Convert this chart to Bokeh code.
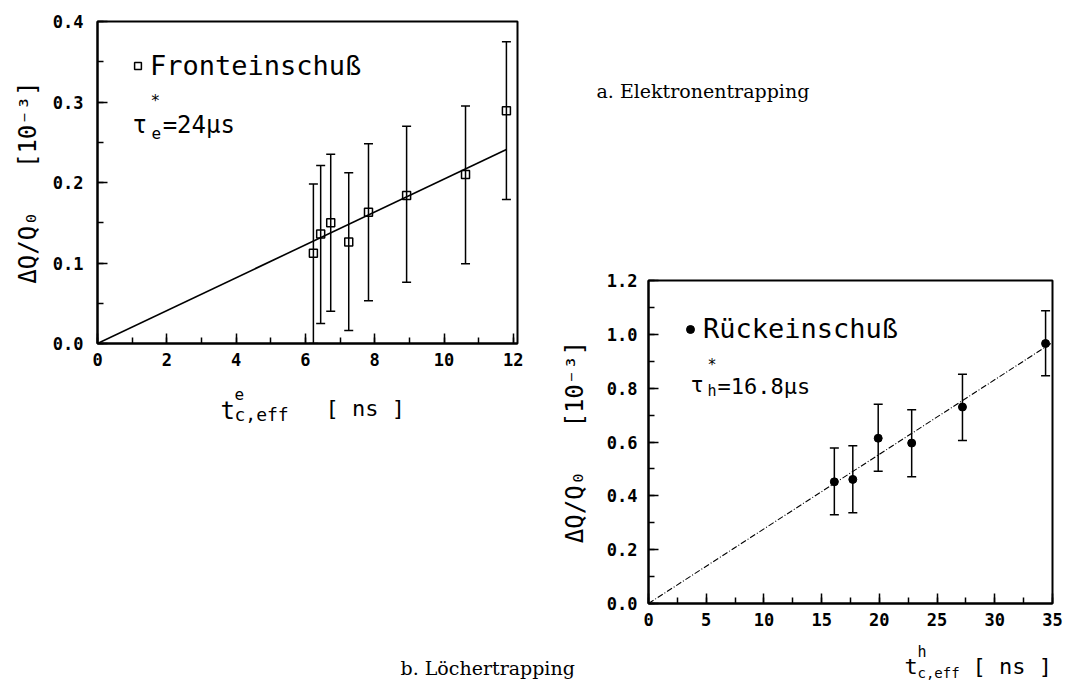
from bokeh.plotting import figure
from bokeh.models import (Range1d, FixedTicker, PrintfTickFormatter,
                          ColumnDataSource, Label, Legend, LegendItem)
from bokeh.layouts import row
from bokeh.core.properties import value
from bokeh.embed import file_html
from bokeh.resources import INLINE

# ---------------- data ----------------
# a. Elektronentrapping (Fronteinschuss)
t_e = [6.23, 6.44, 6.73, 7.25, 7.82, 8.92, 10.62, 11.80]
dq_e = [0.112, 0.136, 0.150, 0.126, 0.163, 0.184, 0.210, 0.289]
dq_e_hi = [0.198, 0.221, 0.235, 0.212, 0.248, 0.270, 0.295, 0.375]
dq_e_lo = [0.000, 0.025, 0.040, 0.016, 0.053, 0.076, 0.099, 0.179]
fit_e_x = [0.0, 11.8]
fit_e_y = [0.0, 0.241]

# b. Loechertrapping (Rueckeinschuss)
t_h = [16.1, 17.7, 19.9, 22.8, 27.2, 34.4]
dq_h = [0.452, 0.461, 0.614, 0.596, 0.730, 0.966]
dq_h_hi = [0.578, 0.586, 0.740, 0.720, 0.852, 1.088]
dq_h_lo = [0.330, 0.337, 0.491, 0.471, 0.606, 0.846]
fit_h_x = [0.0, 35.0]
fit_h_y = [0.0, 0.970]

MONO = "DejaVu Sans Mono"
SERIF = "DejaVu Serif"
NB = "\u00a0"
YLABEL = "ΔQ/Q₀" + NB * 3 + "[10⁻³]"


def ticks(step, n):
    return [round(i * step, 3) for i in range(n + 1)]


def style(p, xstep, xn, ystep, yn):
    p.frame_align = False
    p.xgrid.visible = False
    p.ygrid.visible = False
    p.outline_line_color = "black"
    p.outline_line_width = 2
    p.xaxis.ticker = FixedTicker(ticks=ticks(xstep, xn), minor_ticks=ticks(xstep / 2, 2 * xn))
    p.yaxis.ticker = FixedTicker(ticks=ticks(ystep, yn), minor_ticks=ticks(ystep / 2, 2 * yn))
    p.xaxis.formatter = PrintfTickFormatter(format="%d")
    p.yaxis.formatter = PrintfTickFormatter(format="%.1f")
    for ax in p.axis:
        ax.axis_line_color = "black"
        ax.axis_line_width = 2
        ax.major_tick_in = 10
        ax.major_tick_out = 0
        ax.minor_tick_in = 6
        ax.minor_tick_out = 0
        ax.major_tick_line_width = 1.5
        ax.minor_tick_line_width = 1.5
        ax.major_tick_line_color = "black"
        ax.minor_tick_line_color = "black"
        ax.major_label_text_font = MONO
        ax.major_label_text_font_style = "bold"
        ax.major_label_text_font_size = "17px"
        ax.major_label_text_color = "black"
        ax.axis_label_text_font = MONO
        ax.axis_label_text_font_style = "normal"
        ax.axis_label_text_font_size = "24px"
        ax.axis_label_text_color = "black"
    p.xaxis.major_label_standoff = 9


def lab(p, x, y, text, size, font=MONO, baseline="alphabetic"):
    p.add_layout(Label(x=x, y=y, text=text, text_font=font, text_font_size=f"{size}px",
                       text_baseline=baseline, text_align="left", text_color="black"))


def errbars(p, src):
    p.segment(x0="x", y0="lo", x1="x", y1="hi", source=src, line_color="black", line_width=1.5)
    p.scatter("x", "hi", source=src, marker="dash", size=9, line_color="black", line_width=1.5)
    p.scatter("x", "lo", source=src, marker="dash", size=9, line_color="black", line_width=1.5)


# ---------------- plot a ----------------
p1 = figure(frame_width=420, frame_height=322, min_border_left=97, min_border_right=71,
            min_border_top=21, min_border_bottom=60,
            x_range=Range1d(0, 12.12), y_range=Range1d(0, 0.4),
            output_backend="svg", toolbar_location=None)
style(p1, 2, 6, 0.1, 4)
p1.yaxis.major_label_standoff = 14
p1.yaxis.axis_label = YLABEL
p1.yaxis.axis_label_standoff = 8

lab(p1, 1.01, 0.272, "τ", 24)
lab(p1, 1.53, 0.302, "*", 16, baseline="middle")
lab(p1, 1.56, 0.262, "e", 16, baseline="middle")
lab(p1, 1.88, 0.272, "=24μs", 24)

p1.line(fit_e_x, fit_e_y, line_color="black", line_width=1.6)
src1 = ColumnDataSource(dict(x=t_e, y=dq_e, hi=dq_e_hi, lo=dq_e_lo))
errbars(p1, src1)
sq = p1.scatter("x", "y", source=src1, marker="square", size=8, fill_color=None,
                line_color="black", line_width=1.5)
p1.add_layout(Legend(items=[LegendItem(label=value("Fronteinschuß"), renderers=[sq])],
                     location=(32, 262), glyph_width=17, glyph_height=17, label_standoff=4,
                     padding=0, margin=0, border_line_color=None, background_fill_alpha=0,
                     label_text_font=MONO, label_text_font_size="27px",
                     label_text_color="black"))

# ---------------- plot b ----------------
p2 = figure(frame_width=404, frame_height=323, min_border_left=100, min_border_right=39,
            min_border_top=280, min_border_bottom=75,
            x_range=Range1d(0, 35.0), y_range=Range1d(0, 1.2),
            output_backend="svg", toolbar_location=None)
style(p2, 5, 7, 0.2, 6)
p2.margin = (0, 0, 0, -40)
p2.border_fill_alpha = 0
p2.yaxis.major_label_standoff = 11
p2.yaxis.axis_label = YLABEL
p2.yaxis.axis_label_standoff = 15

lab(p2, 3.64, 0.813, "τ", 22)
lab(p2, 5.11, 0.885, "*", 15, baseline="middle")
lab(p2, 5.11, 0.791, "h", 15, baseline="middle")
lab(p2, 5.98, 0.806, "=16.8μs", 22)

p2.line(fit_h_x, fit_h_y, line_color="black", line_width=1.1, line_dash="6 2 1 2")
src2 = ColumnDataSource(dict(x=t_h, y=dq_h, hi=dq_h_hi, lo=dq_h_lo))
errbars(p2, src2)
dots = p2.scatter("x", "y", source=src2, marker="circle", size=8, fill_color="black",
                  line_color="black")
p2.add_layout(Legend(items=[LegendItem(label=value("Rückeinschuß"), renderers=[dots])],
                     location=(32, 259), glyph_width=20, glyph_height=20, label_standoff=3,
                     padding=0, margin=0, border_line_color=None, background_fill_alpha=0,
                     label_text_font=MONO, label_text_font_size="27px",
                     label_text_color="black"))

# ---------------- transparent text overlay (page pixel coordinates) ----------------
p3 = figure(width=1091, height=681, min_border=0, x_range=Range1d(0, 1091),
            y_range=Range1d(681, 0), x_axis_type=None, y_axis_type=None,
            output_backend="svg", toolbar_location=None)
p3.frame_align = False
p3.margin = (0, 0, 0, -1091)
p3.outline_line_color = None
p3.background_fill_alpha = 0
p3.border_fill_alpha = 0
p3.grid.visible = False

# x axis label of plot a
lab(p3, 220, 410, "t", 24)
lab(p3, 234, 393, "e", 16, baseline="middle")
lab(p3, 234, 414, "c,eff", 18, baseline="middle")
lab(p3, 325, 408, "[ ns ]", 22)
# x axis label of plot b
lab(p3, 904, 666, "t", 22)
lab(p3, 917, 651, "h", 15, baseline="middle")
lab(p3, 917, 672, "c,eff", 14, baseline="middle")
lab(p3, 972, 666, "[ ns ]", 22)
# captions
lab(p3, 596, 90, "a. Elektronentrapping", 19, font=SERIF)
lab(p3, 400, 667, "b. Löchertrapping", 19, font=SERIF)

layout = row(p1, p2, p3)
open("out.html", "w").write(file_html(layout, INLINE))
